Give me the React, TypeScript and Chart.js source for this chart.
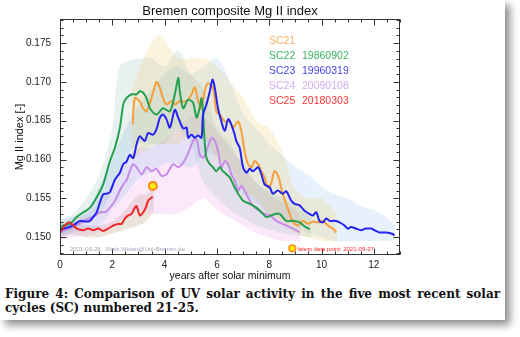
import React, { useEffect, useRef } from "react";
import { Chart, registerables } from "chart.js";

Chart.register(...registerables);

// ---------- axis ticks ----------
const xTicks = [0, 2, 4, 6, 8, 10, 12];
const yTicks = [0.15, 0.155, 0.16, 0.165, 0.17, 0.175];

// ---------- smoothed series (years after minimum, Mg II index) ----------
const sc21X = [2.78, 2.86, 3.05, 3.18, 3.31, 3.5, 3.69, 3.82, 3.94, 4.07, 4.26, 4.39, 4.58, 4.84, 5.03, 5.15, 5.28, 5.41, 5.53, 5.66, 5.85, 5.98, 6.11, 6.3, 6.49, 6.61, 6.81, 6.93, 7.06, 7.19, 7.32, 7.44, 7.57, 7.7, 7.82, 7.95, 8.08, 8.2, 8.33, 8.45, 8.52, 8.65, 8.78, 8.91, 9.1, 9.29, 9.48, 9.67, 9.86, 10.05, 10.24, 10.43, 10.56];
const sc21Y = [0.1645, 0.1679, 0.1675, 0.1666, 0.1662, 0.1679, 0.17, 0.1692, 0.1679, 0.1671, 0.1675, 0.1671, 0.1675, 0.1675, 0.1684, 0.1693, 0.1676, 0.1666, 0.1688, 0.1698, 0.1692, 0.1662, 0.1658, 0.1649, 0.1649, 0.1641, 0.1649, 0.1637, 0.1611, 0.1594, 0.159, 0.1598, 0.1594, 0.1585, 0.1577, 0.1564, 0.157, 0.1585, 0.158, 0.1565, 0.1555, 0.1543, 0.153, 0.152, 0.1515, 0.1521, 0.1517, 0.152, 0.1519, 0.1521, 0.1515, 0.1511, 0.1506];

const sc22X = [0, 0.13, 0.38, 0.64, 0.89, 1.15, 1.4, 1.65, 1.91, 2.1, 2.29, 2.42, 2.54, 2.74, 2.93, 3.05, 3.18, 3.31, 3.44, 3.69, 3.94, 4.2, 4.39, 4.52, 4.58, 4.71, 4.9, 5.09, 5.22, 5.34, 5.41, 5.47, 5.53, 5.6, 5.73, 5.85, 5.98, 6.11, 6.23, 6.36, 6.49, 6.68, 6.81, 7.0, 7.25, 7.51, 7.7, 7.89, 8.08, 8.27, 8.4, 8.65, 8.91, 9.16, 9.35, 9.55];
const sc22Y = [0.1511, 0.1515, 0.1517, 0.1526, 0.1532, 0.1538, 0.1551, 0.1568, 0.1598, 0.1615, 0.1641, 0.1671, 0.1679, 0.1684, 0.1684, 0.1688, 0.1686, 0.1679, 0.1666, 0.1658, 0.1666, 0.1662, 0.1684, 0.1705, 0.1688, 0.1666, 0.1677, 0.1673, 0.1654, 0.1666, 0.1679, 0.166, 0.1624, 0.1602, 0.1594, 0.159, 0.1585, 0.159, 0.1585, 0.1581, 0.1577, 0.1564, 0.1556, 0.1547, 0.1543, 0.1538, 0.1532, 0.1526, 0.1528, 0.153, 0.153, 0.1521, 0.1521, 0.1519, 0.1514, 0.151];

const sc23X = [0, 0.25, 0.5, 0.76, 0.95, 1.15, 1.27, 1.4, 1.53, 1.65, 1.8, 1.91, 2.1, 2.29, 2.42, 2.54, 2.67, 2.8, 2.93, 3.05, 3.24, 3.37, 3.56, 3.69, 3.82, 3.94, 4.07, 4.2, 4.39, 4.52, 4.71, 4.84, 4.9, 5.03, 5.15, 5.28, 5.41, 5.47, 5.6, 5.73, 5.83, 5.92, 6.04, 6.17, 6.3, 6.43, 6.55, 6.68, 6.74, 6.87, 7.0, 7.13, 7.25, 7.38, 7.57, 7.7, 7.82, 8.02, 8.14, 8.33, 8.52, 8.65, 8.84, 8.97, 9.16, 9.35, 9.54, 9.67, 9.8, 9.92, 10.05, 10.18, 10.31, 10.5, 10.69, 10.88, 11.0, 11.13, 11.32, 11.51, 11.7, 11.9, 12.02, 12.21, 12.47, 12.72, 12.79];
const sc23Y = [0.151, 0.1512, 0.1515, 0.1521, 0.152, 0.1521, 0.1526, 0.1532, 0.1545, 0.1555, 0.1556, 0.1558, 0.1574, 0.1583, 0.1594, 0.1597, 0.1606, 0.1602, 0.162, 0.163, 0.1624, 0.1634, 0.1632, 0.1639, 0.1654, 0.1658, 0.1652, 0.1641, 0.1664, 0.1654, 0.164, 0.1641, 0.1628, 0.1632, 0.1628, 0.1631, 0.1628, 0.1658, 0.1671, 0.1688, 0.1703, 0.1692, 0.1666, 0.1649, 0.1637, 0.1652, 0.1645, 0.1632, 0.1624, 0.1615, 0.159, 0.1583, 0.1588, 0.1585, 0.159, 0.1581, 0.1568, 0.1564, 0.1556, 0.156, 0.1556, 0.1559, 0.1547, 0.1543, 0.1541, 0.1534, 0.153, 0.1528, 0.1532, 0.1521, 0.1519, 0.1524, 0.1521, 0.1521, 0.1519, 0.1515, 0.1511, 0.1513, 0.1511, 0.1509, 0.1511, 0.1511, 0.1509, 0.1506, 0.1506, 0.1504, 0.1502];

const sc24X = [0, 0.25, 0.51, 0.89, 1.27, 1.53, 1.72, 1.91, 2.1, 2.29, 2.42, 2.54, 2.67, 2.8, 2.93, 3.12, 3.31, 3.5, 3.69, 3.88, 4.07, 4.33, 4.52, 4.71, 4.9, 5.09, 5.22, 5.34, 5.47, 5.6, 5.79, 5.92, 6.04, 6.17, 6.3, 6.43, 6.55, 6.68, 6.81, 6.93, 7.06, 7.25, 7.44, 7.63, 7.82, 8.02, 8.27, 8.52, 8.78, 9.03, 9.16];
const sc24Y = [0.1506, 0.151, 0.1513, 0.1521, 0.1526, 0.1532, 0.1532, 0.1538, 0.1547, 0.156, 0.1568, 0.1573, 0.1585, 0.1594, 0.159, 0.1581, 0.159, 0.1585, 0.1588, 0.1579, 0.1581, 0.1594, 0.159, 0.1596, 0.1608, 0.1624, 0.1626, 0.1607, 0.1602, 0.1611, 0.1628, 0.1624, 0.1611, 0.159, 0.1598, 0.1594, 0.1581, 0.1573, 0.156, 0.1566, 0.156, 0.1547, 0.1538, 0.1534, 0.153, 0.1528, 0.1521, 0.1517, 0.1513, 0.1509, 0.1506];

const sc25X = [0, 0.1, 0.19, 0.32, 0.45, 0.64, 0.89, 1.08, 1.27, 1.46, 1.65, 1.84, 2.04, 2.23, 2.35, 2.48, 2.61, 2.74, 2.86, 2.93, 3.05, 3.18, 3.28, 3.37, 3.5, 3.55];
const sc25Y = [0.1506, 0.1511, 0.1515, 0.1519, 0.1517, 0.1511, 0.1509, 0.1511, 0.1509, 0.1511, 0.1508, 0.1511, 0.1515, 0.1517, 0.1517, 0.1524, 0.1528, 0.153, 0.1538, 0.154, 0.1528, 0.1532, 0.1538, 0.1547, 0.1551, 0.1552];

// ---------- daily data spread (upper / lower envelopes) ----------
const sc21RawX = [2.75, 3.2, 3.8, 4.5, 5.0, 5.5, 6.0, 6.5, 7.0, 7.5, 8.0, 8.5, 9.0, 9.5, 10.0, 10.6];
const sc21RawHi = [0.169, 0.173, 0.176, 0.173, 0.173, 0.173, 0.172, 0.17, 0.168, 0.165, 0.164, 0.161, 0.156, 0.155, 0.155, 0.153];
const sc21RawLo = [0.16, 0.161, 0.162, 0.162, 0.163, 0.163, 0.16, 0.159, 0.156, 0.155, 0.153, 0.152, 0.1505, 0.15, 0.1495, 0.1495];

const sc22RawX = [0, 0.5, 1.0, 1.5, 2.0, 2.3, 3.0, 3.5, 4.0, 4.5, 5.0, 5.5, 6.0, 6.5, 7.0, 7.5, 8.0, 8.5, 9.0, 9.6];
const sc22RawHi = [0.1522, 0.153, 0.155, 0.158, 0.164, 0.172, 0.173, 0.173, 0.172, 0.174, 0.171, 0.169, 0.164, 0.162, 0.159, 0.157, 0.156, 0.155, 0.154, 0.1525];
const sc22RawLo = [0.1502, 0.1508, 0.152, 0.153, 0.156, 0.159, 0.162, 0.162, 0.162, 0.164, 0.162, 0.157, 0.155, 0.1535, 0.1525, 0.1515, 0.151, 0.1505, 0.1502, 0.15];

const sc23RawX = [0, 1.0, 1.5, 2.0, 2.5, 3.0, 3.5, 4.0, 4.5, 5.0, 5.5, 6.0, 6.5, 7.0, 7.5, 8.0, 8.5, 9.0, 9.5, 10.0, 10.5, 11.0, 11.5, 12.0, 12.5, 12.8];
const sc23RawHi = [0.152, 0.1535, 0.1565, 0.16, 0.164, 0.167, 0.169, 0.171, 0.172, 0.171, 0.172, 0.173, 0.17, 0.166, 0.164, 0.162, 0.1605, 0.159, 0.158, 0.1565, 0.1555, 0.155, 0.154, 0.1535, 0.1525, 0.1515];
const sc23RawLo = [0.1502, 0.151, 0.1515, 0.1535, 0.1555, 0.1575, 0.1585, 0.1595, 0.1595, 0.159, 0.1605, 0.1605, 0.1585, 0.1555, 0.1545, 0.153, 0.1525, 0.1515, 0.1505, 0.15, 0.1495, 0.1495, 0.1495, 0.1495, 0.1495, 0.1495];

const sc24RawX = [0, 1.0, 1.5, 2.0, 2.5, 3.0, 3.5, 4.0, 4.5, 5.0, 5.5, 6.0, 6.5, 7.0, 7.5, 8.0, 8.5, 9.0, 9.2];
const sc24RawHi = [0.1515, 0.153, 0.1545, 0.157, 0.16, 0.1615, 0.1615, 0.1625, 0.164, 0.1655, 0.1655, 0.1635, 0.1615, 0.1595, 0.157, 0.1555, 0.1545, 0.1535, 0.1525];
const sc24RawLo = [0.1497, 0.1502, 0.1507, 0.1515, 0.1525, 0.1535, 0.153, 0.153, 0.153, 0.154, 0.155, 0.1535, 0.1525, 0.1515, 0.1505, 0.15, 0.1495, 0.1495, 0.1495];

const sc25RawX = [0, 0.5, 1.0, 1.5, 2.0, 2.5, 3.0, 3.3, 3.6];
const sc25RawHi = [0.1515, 0.152, 0.1515, 0.1515, 0.152, 0.1535, 0.1555, 0.1555, 0.157];
const sc25RawLo = [0.15, 0.1503, 0.15, 0.15, 0.1505, 0.151, 0.1515, 0.152, 0.1535];

// ---------- latest data point ----------
const latestX = [3.55];
const latestY = [0.1566];

// ---------- legend / labels ----------
const legendNames = ["SC21", "SC22", "SC23", "SC24", "SC25"];
const legendDates = ["", "19860902", "19960319", "20090108", "20180303"];
const titleText = "Bremen composite Mg II index";
const yTitle = "Mg II index [-]";
const xTitle = "years after solar minimum";
const stampDate = "2021-09-28";
const stampMail = "Mark.Weber@Uni-Bremen.de";
const latestLabel = "latest data point: 2021-09-27";
const captionLine1 = "Figure 4: Comparison of UV solar activity in the five most recent solar";
const captionLine2 = "cycles (SC) numbered 21-25.";

// ---------- styles ----------
const lineColors = ["rgb(246,160,60)", "rgb(38,160,80)", "rgb(36,36,240)", "rgb(200,140,232)", "rgb(240,40,40)"];
const legendColors = ["rgb(248,178,100)", "rgb(60,178,100)", "rgb(70,70,240)", "rgb(212,170,240)", "rgb(250,55,55)"];
const bandColors = [
  "rgba(240,195,90,0.20)",
  "rgba(120,175,170,0.18)",
  "rgba(150,195,240,0.24)",
  "rgba(236,150,236,0.22)",
  "rgba(165,135,95,0.22)",
];
const SANS = "'Liberation Sans', Arial, Helvetica, sans-serif";
const NARROW = "'Liberation Sans Narrow', 'Liberation Sans', Arial, sans-serif";

const zip = (xs: number[], ys: number[]) => xs.map((x, i) => ({ x, y: ys[i] }));

const decorPlugin = {
  id: "decor",
  afterDraw(chart: any) {
    const { ctx, chartArea: a, scales } = chart;
    const xs = scales.x;
    const ys = scales.y;
    ctx.save();
    // frame
    ctx.strokeStyle = "#333";
    ctx.lineWidth = 1;
    const L = Math.round(a.left) + 0.5;
    const R = Math.round(a.right) - 0.5;
    const T = Math.round(a.top) + 0.5;
    const B = Math.round(a.bottom) - 0.5;
    ctx.strokeRect(L, T, R - L, B - T);
    // ticks
    ctx.beginPath();
    const xMinorStep = 0.5;
    for (let v = xs.min; v <= xs.max + 1e-9; v += xMinorStep) {
      const major = xTicks.some((t) => Math.abs(t - v) < 1e-6);
      const len = major ? 6 : 3;
      const px = Math.round(xs.getPixelForValue(v)) + 0.5;
      ctx.moveTo(px, B);
      ctx.lineTo(px, B - len);
      ctx.moveTo(px, T);
      ctx.lineTo(px, T + len);
    }
    const yMinorStep = 0.001;
    const yStart = Math.ceil(ys.min / yMinorStep - 1e-6) * yMinorStep;
    for (let v = yStart; v <= ys.max + 1e-9; v += yMinorStep) {
      const major = yTicks.some((t) => Math.abs(t - v) < 1e-7);
      const len = major ? 6 : 3;
      const py = Math.round(ys.getPixelForValue(v)) + 0.5;
      ctx.moveTo(L, py);
      ctx.lineTo(L + len, py);
      ctx.moveTo(R, py);
      ctx.lineTo(R - len, py);
    }
    ctx.stroke();

    const cx = (a.left + a.right) / 2;
    // title
    ctx.fillStyle = "#111";
    ctx.font = `13px ${SANS}`;
    ctx.textAlign = "center";
    ctx.textBaseline = "alphabetic";
    ctx.fillText(titleText, cx, 15);
    // x title
    ctx.font = `10.5px ${SANS}`;
    ctx.fillText(xTitle, cx, 279);
    // y title
    ctx.save();
    ctx.translate(20, (a.top + a.bottom) / 2);
    ctx.rotate(-Math.PI / 2);
    ctx.font = `11px ${SANS}`;
    ctx.textBaseline = "middle";
    ctx.fillText(yTitle, 0, 0);
    ctx.restore();

    // legend
    ctx.textAlign = "left";
    ctx.textBaseline = "alphabetic";
    ctx.font = `10.5px ${SANS}`;
    legendNames.forEach((n, i) => {
      const y = 43.5 + i * 15.2;
      ctx.fillStyle = legendColors[i];
      ctx.fillText(n, 269, y);
      if (legendDates[i]) ctx.fillText(legendDates[i], 302, y);
    });

    // footer stamps
    ctx.font = `6px ${SANS}`;
    ctx.fillStyle = "rgb(165,165,185)";
    ctx.fillText(stampDate, 70, 250.5);
    ctx.fillText(stampMail, 106, 250.5);
    ctx.fillStyle = "rgb(255,40,40)";
    ctx.fillText(latestLabel, 297.5, 250.5);
    ctx.beginPath();
    ctx.arc(292.3, 248.3, 3.3, 0, Math.PI * 2);
    ctx.fillStyle = "rgb(255,235,20)";
    ctx.fill();
    ctx.lineWidth = 1.6;
    ctx.strokeStyle = "rgb(255,140,20)";
    ctx.stroke();
    ctx.restore();
  },
};

export default function App() {
  const ref = useRef<HTMLCanvasElement | null>(null);

  useEffect(() => {
    if (!ref.current) return;
    const raws = [
      [sc21RawX, sc21RawHi, sc21RawLo],
      [sc22RawX, sc22RawHi, sc22RawLo],
      [sc23RawX, sc23RawHi, sc23RawLo],
      [sc24RawX, sc24RawHi, sc24RawLo],
      [sc25RawX, sc25RawHi, sc25RawLo],
    ];
    const datasets: any[] = [];
    raws.forEach((r, i) => {
      datasets.push({
        data: zip(r[0], r[2]),
        borderWidth: 0,
        pointRadius: 0,
        fill: false,
        tension: 0.3,
        order: 20,
      });
      datasets.push({
        data: zip(r[0], r[1]),
        borderWidth: 0,
        pointRadius: 0,
        fill: "-1",
        backgroundColor: bandColors[i],
        tension: 0.3,
        order: 20,
      });
    });
    const lines = [
      [sc21X, sc21Y, 5],
      [sc22X, sc22Y, 4],
      [sc23X, sc23Y, 3],
      [sc24X, sc24Y, 6],
      [sc25X, sc25Y, 2],
    ] as any[];
    lines.forEach((l, i) => {
      datasets.push({
        data: zip(l[0], l[1]),
        borderColor: lineColors[i],
        borderWidth: 2,
        pointRadius: 0,
        fill: false,
        tension: 0.3,
        order: l[2],
      });
    });
    datasets.push({
      data: zip(latestX, latestY),
      showLine: false,
      pointRadius: 4,
      pointBackgroundColor: "rgb(255,235,20)",
      pointBorderColor: "rgb(255,140,20)",
      pointBorderWidth: 2,
      order: 0,
    });

    const chart = new Chart(ref.current, {
      type: "line",
      data: { datasets },
      plugins: [decorPlugin],
      options: {
        animation: false,
        responsive: false,
        maintainAspectRatio: false,
        devicePixelRatio: 1,
        layout: { padding: { left: 0, right: 105, top: 19, bottom: 0 } },
        plugins: { legend: { display: false }, title: { display: false }, tooltip: { enabled: false } },
        scales: {
          x: {
            type: "linear",
            min: 0,
            max: 13,
            grid: { display: false, drawTicks: false },
            border: { display: false },
            afterBuildTicks: (s: any) => {
              s.ticks = xTicks.map((v) => ({ value: v }));
            },
            afterFit: (s: any) => {
              s.height = 30;
            },
            ticks: {
              padding: 4,
              maxRotation: 0,
              autoSkip: false,
              color: "#222",
              font: { family: NARROW, size: 10 },
              callback: (v: any) => String(v),
            },
          },
          y: {
            type: "linear",
            min: 0.1477,
            max: 0.1781,
            grid: { display: false, drawTicks: false },
            border: { display: false },
            afterBuildTicks: (s: any) => {
              s.ticks = yTicks.map((v) => ({ value: v }));
            },
            afterFit: (s: any) => {
              s.width = 60;
            },
            ticks: {
              padding: 9,
              autoSkip: false,
              color: "#222",
              font: { family: NARROW, size: 10 },
              callback: (v: any) => Number(v).toFixed(3),
            },
          },
        },
      } as any,
    });
    return () => chart.destroy();
  }, []);

  return (
    <div
      style={{
        position: "absolute",
        left: 0,
        top: 0,
        width: 505,
        height: 320,
        background: "#fff",
        boxShadow: "5px 5px 8px rgba(0,0,0,0.45)",
      }}
    >
      <canvas ref={ref} width={505} height={285} style={{ display: "block" }} />
      <div
        style={{
          position: "absolute",
          left: 5,
          top: 288,
          width: 495,
          fontFamily: "'DejaVu Serif', 'Liberation Serif', serif",
          fontWeight: "bold",
          fontSize: 12,
          lineHeight: "13.5px",
          color: "#111",
        }}
      >
        <div style={{ textAlign: "justify", textAlignLast: "justify" }}>{captionLine1}</div>
        <div>{captionLine2}</div>
      </div>
    </div>
  );
}
